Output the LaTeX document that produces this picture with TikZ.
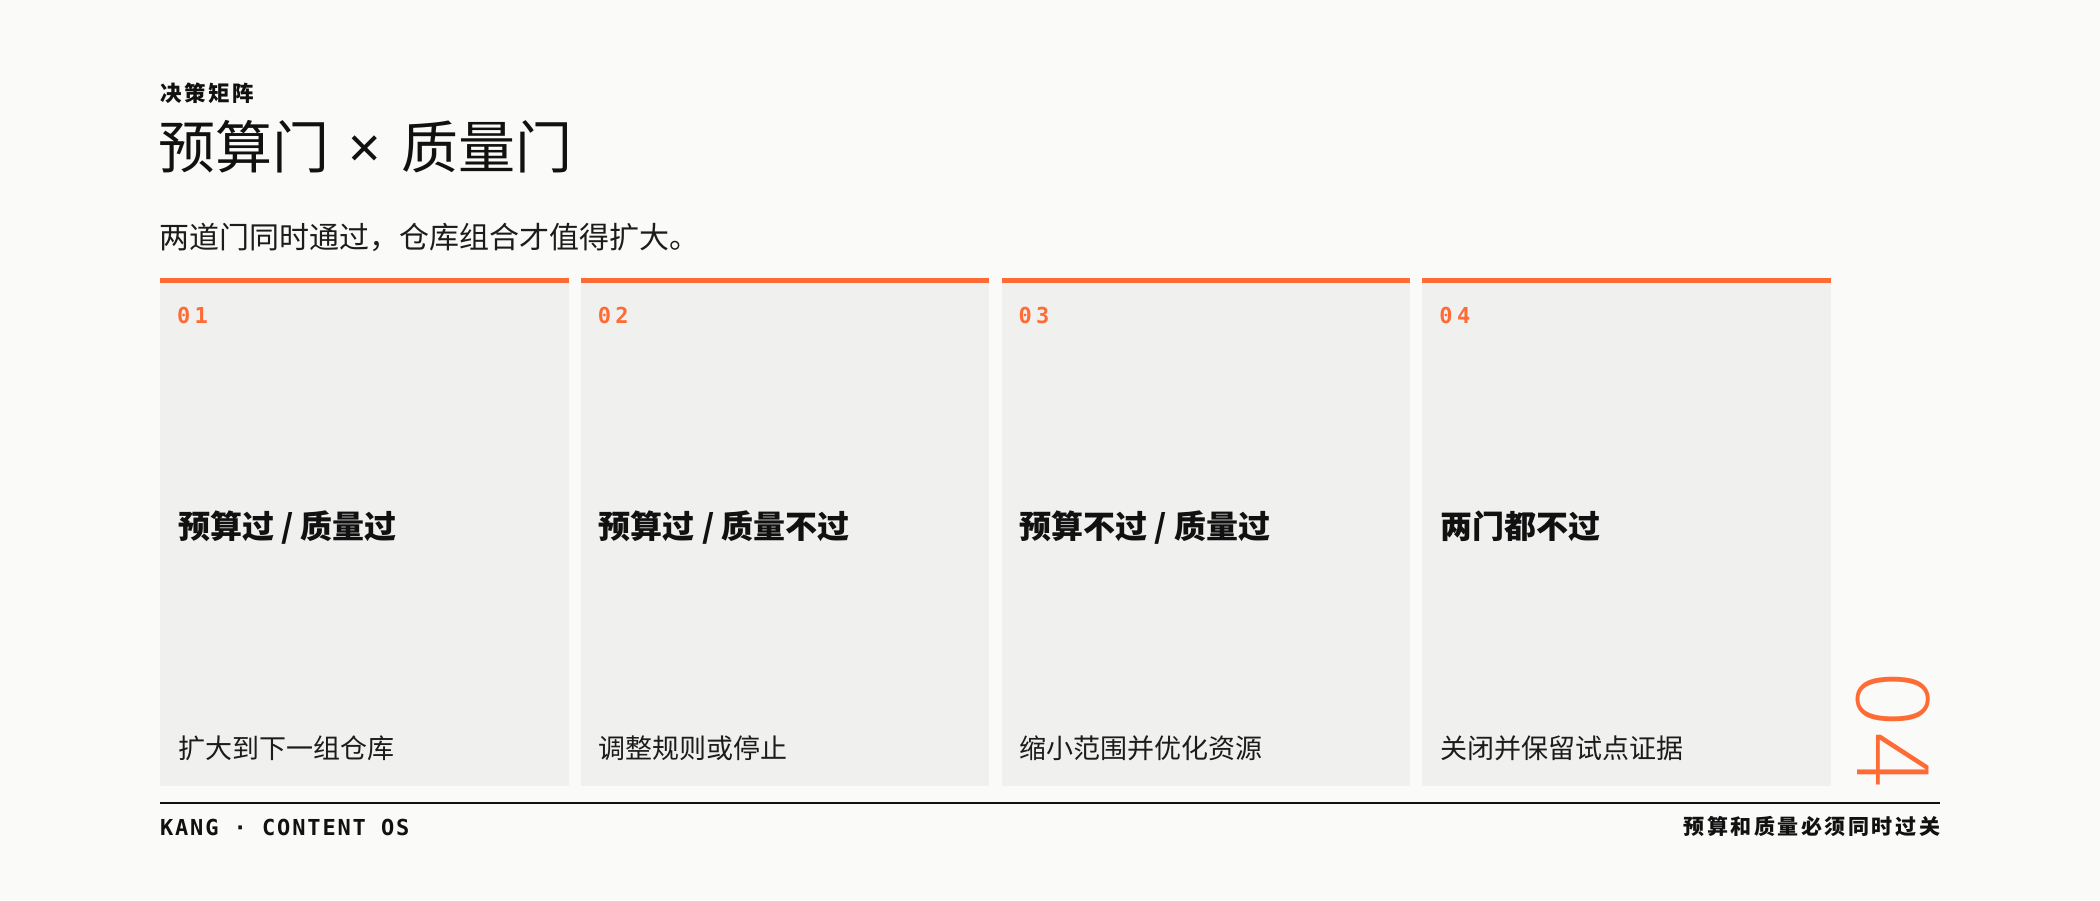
\documentclass[tikz,border=0pt]{standalone}
\usepackage{fontspec}
\setmainfont{Noto Sans CJK SC}
\newfontfamily\monob{DejaVu Sans Mono}[LetterSpace=8.5]
\newfontfamily\monon{DejaVu Sans Mono}[LetterSpace=20]
\newfontfamily\cjkspaced{Noto Sans CJK SC}[LetterSpace=12]
\newfontfamily\crossfont{Noto Sans}
\newfontfamily\numfont{DejaVu Sans ExtraLight}
\definecolor{bgc}{HTML}{FAFAF8}
\definecolor{cardc}{HTML}{F0F0EE}
\definecolor{accent}{HTML}{FF6B35}
\definecolor{ink}{HTML}{111111}
\definecolor{ink2}{HTML}{1C1C1C}
\begin{document}
\begin{tikzpicture}[x=1pt,y=-1pt,
  txt/.style={inner sep=0pt, outer sep=0pt, anchor=base west},
  kicker/.style={txt, font=\fontsize{21.5}{24}\selectfont\cjkspaced\bfseries, text=ink},
  titlet/.style={txt, font=\fontsize{57}{64}\selectfont, text=ink},
  subt/.style={txt, font=\fontsize{30}{34}\selectfont, text=ink2},
  cardnum/.style={txt, font=\fontsize{22}{24}\selectfont\monon\bfseries, text=accent},
  cardhead/.style={txt, font=\fontsize{32}{36}\selectfont\bfseries, text=ink},
  cardfoot/.style={txt, font=\fontsize{27}{30}\selectfont, text=ink2},
  footl/.style={txt, font=\fontsize{22}{24}\selectfont\monob\bfseries, text=ink},
  footr/.style={inner sep=0pt, outer sep=0pt, anchor=base east, font=\fontsize{21}{24}\selectfont\cjkspaced\bfseries, text=ink},
  bignum/.style={inner sep=0pt, outer sep=0pt, anchor=base west, rotate=-90, font=\fontsize{98}{110}\selectfont\numfont, text=accent}
]
\fill[bgc] (0,0) rectangle (2100,900);
\useasboundingbox (0,0) rectangle (2100,900);

\node[kicker] (kick) at (160,101.5) {决策矩阵};
\node[titlet] (title) at (158,168) {预算门\hspace{0.35em}{\crossfont ×}\hspace{0.35em}质量门};
\node[subt] (sub) at (159,248.5) {两道门同时通过，仓库组合才值得扩大。};

\foreach \i/\head/\foot in {1/{预算过 / 质量过}/扩大到下一组仓库, 2/{预算过 / 质量不过}/调整规则或停止, 3/{预算不过 / 质量过}/缩小范围并优化资源, 4/两门都不过/关闭并保留试点证据}{
  \pgfmathsetmacro{\xx}{160+420.8*(\i-1)}
  \fill[cardc] (\xx,283) rectangle ++(408.5,503);
  \fill[accent] (\xx,278) rectangle ++(408.5,5);
  \node[cardnum] (num\i) at (\xx+17,323) {0\i};
  \node[cardhead] (head\i) at (\xx+18,538) {\head};
  \node[cardfoot] (foot\i) at (\xx+18,758) {\foot};
}

\node[bignum] (big) at (1857,668) {04};

\coordinate (ruleL) at (160,803);
\coordinate (ruleR) at (1940,803);
\draw[ink, line width=2pt] (ruleL) -- (ruleR);

\node[footl] (brand) at (160,835) {KANG · CONTENT OS};
\node[footr] (tag) at (1940,834.5) {预算和质量必须同时过关};
\end{tikzpicture}
\end{document}
